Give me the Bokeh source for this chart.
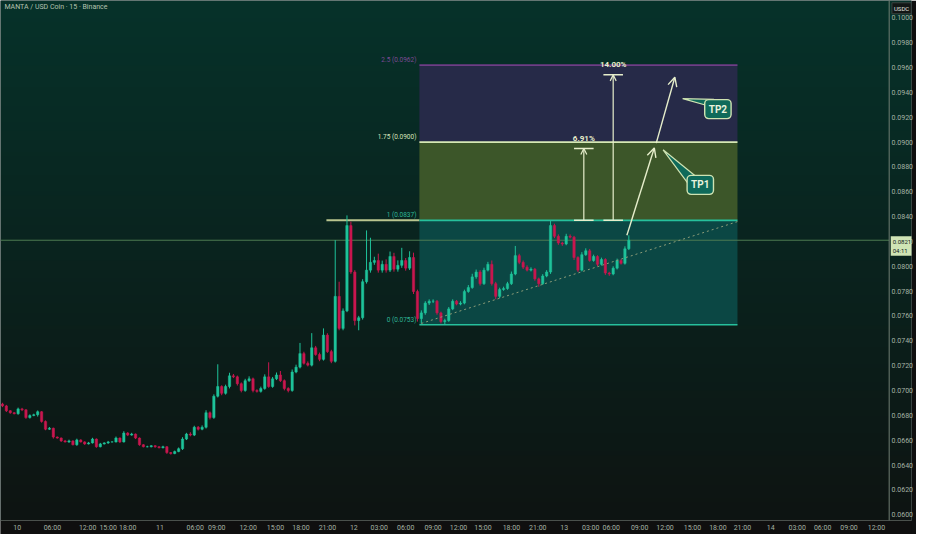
import numpy as np
from bokeh.plotting import figure
from bokeh.models import (Range1d, FixedTicker, Label, Arrow, OpenHead, Span,
                          ColumnDataSource, PrintfTickFormatter)
from bokeh.embed import file_html
from bokeh.resources import INLINE
from bokeh.core.properties import value

# ---------------- data ----------------
first_open = 0.06891
close = [
    0.06876, 0.06837, 0.06821, 0.06813, 0.06852, 0.06844, 0.06782, 0.06798, 0.06805, 0.06829,
    0.06751, 0.06688, 0.06696, 0.06625, 0.06617, 0.06594, 0.06586, 0.06594, 0.06563, 0.06602,
    0.06586, 0.06570, 0.06578, 0.06609, 0.06547, 0.06570, 0.06578, 0.06586, 0.06586, 0.06617,
    0.06586, 0.06657, 0.06641, 0.06649, 0.06617, 0.06563, 0.06547, 0.06547, 0.06555, 0.06547,
    0.06539, 0.06547, 0.06500, 0.06492, 0.06508, 0.06531, 0.06609, 0.06649, 0.06641, 0.06704,
    0.06688, 0.06704, 0.06821, 0.06782, 0.06954, 0.07032, 0.06977, 0.07032, 0.07118, 0.07110,
    0.07055, 0.07000, 0.07079, 0.07094, 0.07000, 0.06993, 0.07016, 0.07110, 0.07032, 0.07094,
    0.07125, 0.07079, 0.07016, 0.07000, 0.07149, 0.07188, 0.07297, 0.07219, 0.07204, 0.07344,
    0.07290, 0.07251, 0.07446, 0.07313, 0.07235, 0.07758, 0.07500, 0.07641, 0.08328, 0.07954,
    0.07563, 0.07586, 0.07876, 0.07969, 0.08032, 0.08047, 0.07969, 0.08016, 0.07969, 0.08079,
    0.07977, 0.08008, 0.08047, 0.07985, 0.08071, 0.07797, 0.07579, 0.07625, 0.07704, 0.07719,
    0.07719, 0.07625, 0.07555, 0.07563, 0.07657, 0.07719, 0.07696, 0.07704, 0.07797, 0.07829,
    0.07915, 0.07954, 0.07860, 0.07969, 0.08016, 0.07860, 0.07758, 0.07813, 0.07821, 0.07860,
    0.07938, 0.08086, 0.08032, 0.07993, 0.07969, 0.07977, 0.07899, 0.07860, 0.07922, 0.07954,
    0.08328, 0.08242, 0.08188, 0.08180, 0.08242, 0.08235, 0.08071, 0.07969, 0.08094, 0.08125,
    0.08047, 0.08079, 0.08016, 0.08055, 0.07946, 0.07938, 0.07985, 0.08047, 0.08024, 0.08141,
    0.08210]
# upper / lower wick lengths beyond the body, in units of 0.00001
wick_up_e5 = [
    10, 8, 5, 5, 10, 8, 5, 10, 8, 10, 5, 8, 10, 5, 5, 5, 8, 10, 5, 10,
    5, 5, 8, 10, 5, 8, 5, 8, 5, 12, 5, 15, 8, 10, 5, 5, 5, 8, 5, 5,
    5, 8, 5, 5, 8, 10, 15, 10, 15, 12, 10, 15, 20, 10, 15, 179, 10, 15, 25, 15,
    10, 10, 15, 20, 10, 10, 15, 20, 117, 15, 20, 32, 10, 10, 20, 20, 86, 15, 15, 118,
    15, 15, 54, 15, 15, 453, 118, 20, 82, 32, 15, 15, 20, 320, 198, 30, 55, 30, 40, 40,
    30, 40, 102, 20, 50, 39, 15, 20, 15, 15, 15, 10, 10, 15, 15, 15, 10, 15, 15, 20,
    25, 20, 15, 20, 20, 31, 15, 15, 15, 15, 20, 78, 15, 15, 15, 15, 10, 10, 15, 15,
    39, 15, 15, 10, 20, 15, 10, 10, 20, 20, 15, 15, 10, 15, 10, 10, 15, 15, 10, 20,
    40]
wick_dn_e5 = [
    10, 10, 8, 5, 8, 10, 10, 8, 5, 15, 10, 8, 5, 12, 5, 8, 5, 8, 5, 8,
    5, 8, 5, 5, 8, 5, 5, 8, 5, 5, 8, 5, 8, 5, 8, 8, 5, 5, 5, 8,
    5, 5, 10, 8, 5, 5, 10, 8, 10, 8, 10, 8, 10, 15, 10, 10, 15, 10, 15, 10,
    15, 15, 10, 10, 15, 10, 10, 10, 10, 10, 10, 10, 15, 15, 10, 10, 10, 10, 10, 10,
    10, 15, 10, 10, 15, 10, 15, 15, 10, 15, 39, 78, 15, 15, 20, 20, 20, 20, 20, 15,
    20, 20, 20, 20, 15, 20, 24, 39, 15, 15, 15, 15, 15, 25, 10, 10, 10, 10, 10, 10,
    10, 15, 15, 10, 10, 15, 23, 15, 10, 10, 10, 10, 15, 15, 10, 10, 15, 25, 10, 10,
    15, 15, 15, 15, 10, 10, 20, 15, 10, 10, 10, 10, 15, 10, 15, 15, 10, 10, 10, 10,
    10]

time_tick_pos = [3.75, 12.75, 21.75, 27.0, 32.0, 40.25, 49.25, 54.75, 62.75, 69.75, 76.25,
                 83.0, 89.75, 96.25, 103.0, 110.0, 116.5, 122.75, 130.0, 136.75, 143.5,
                 150.25, 155.5, 162.75, 169.25, 176.25, 182.75, 189.0, 196.25, 203.0,
                 209.5, 216.25, 223.25]
time_tick_labels = ["10", "06:00", "12:00", "15:00", "18:00", "11", "06:00", "09:00",
                    "12:00", "15:00", "18:00", "21:00", "12", "03:00", "06:00", "09:00",
                    "12:00", "15:00", "18:00", "21:00", "13", "03:00", "06:00", "09:00",
                    "12:00", "15:00", "18:00", "21:00", "14", "03:00", "06:00", "09:00",
                    "12:00"]
price_ticks = [0.0600, 0.0620, 0.0640, 0.0660, 0.0680, 0.0700, 0.0720, 0.0740, 0.0760,
               0.0780, 0.0800, 0.0820, 0.0840, 0.0860, 0.0880, 0.0900, 0.0920, 0.0940,
               0.0960, 0.0980, 0.1000]

fib_prices = [0.0753, 0.0837, 0.0900, 0.0962]
fib_labels = ["0 (0.0753)", "1 (0.0837)", "1.75 (0.0900)", "2.5 (0.0962)"]
fib_start, fib_end = 106.5, 187.75
resistance_start = 82.75            # horizontal line at the 1 level starts here

trend_x = [107.0, 187.75]
trend_y = [0.0754, 0.0836]

last_price = 0.0821
countdown = "04:11"

meas_x = [148.5, 156.0]
meas_base = 0.0837
meas_pct = [6.91, 14.00]

path1_x, path1_y = [159.5, 166.5], [0.0825, 0.08953]
path2_x, path2_y = [167.0, 171.75], [0.08992, 0.09523]

tp_names = ["TP1", "TP2"]
tp_box_x = [178.25, 182.75]
tp_box_y = [0.08656, 0.09266]
tp_tip_x = [168.75, 173.75]
tp_tip_y = [0.08938, 0.0935]
tp_base_x = [[175.0, 177.0], [179.75, 181.75]]
tp_base_y = [[0.08672, 0.08727], [0.09297, 0.09344]]

# ---------------- figure ----------------
W, H = 916, 534
Y0, Y1 = 0.059531, 0.101406
X0, X1 = -0.5, 232.2          # full width; price scale panel starts at SEP
SEP = 226.5
p = figure(width=W, height=H, output_backend="svg", toolbar_location=None,
           x_range=Range1d(X0, X1), y_range=Range1d(Y0, Y1), y_axis_location="right",
           min_border=0)
p.background_fill_color = "#0b1e1a"
p.border_fill_color = "#0f0f0f"
p.outline_line_color = None
p.grid.visible = False

# background gradient
def hex2rgb(h):
    return np.array([int(h[i:i + 2], 16) for i in (1, 3, 5)], dtype=float)
bot, top = hex2rgb("#0e1412"), hex2rgb("#06322a")
pal = ["#%02x%02x%02x" % tuple((bot + (top - bot) * t).astype(int)) for t in np.linspace(0, 1, 256)]
grad = np.linspace(0, 1, 256).reshape(-1, 1) * np.ones((1, 2))
p.image(image=[grad], x=X0, y=Y0, dw=X1 - X0, dh=Y1 - Y0, palette=pal, level="image")

# fib zones
zone_cols = ["#0b4744", "#3c5629", "#262a48"]
for k in range(3):
    p.quad(left=fib_start, right=fib_end, bottom=fib_prices[k], top=fib_prices[k + 1],
           fill_color=zone_cols[k], line_color=None)

# resistance line (beige) left of the box
p.segment(x0=resistance_start, y0=fib_prices[1], x1=fib_start, y1=fib_prices[1],
          line_color="#b9c58f", line_width=2)

# current price line
p.segment(x0=X0, y0=last_price, x1=SEP, y1=last_price, line_color="#4c7a52", line_width=1)

# candles
n = len(close)
xs = np.arange(n)
opens = [first_open] + close[:-1]
hi = [max(o, c) + u * 1e-5 for o, c, u in zip(opens, close, wick_up_e5)]
lo = [min(o, c) - d * 1e-5 for o, c, d in zip(opens, close, wick_dn_e5)]
cols = ["#1ec39a" if c >= o else "#c8174f" for o, c in zip(opens, close)]
src = ColumnDataSource(dict(x=xs, o=opens, c=close, h=hi, l=lo, col=cols,
                            top=[max(o, c) for o, c in zip(opens, close)],
                            bot=[min(o, c) for o, c in zip(opens, close)]))
p.segment(x0="x", y0="h", x1="x", y1="l", color="col", line_width=1, source=src)
p.vbar(x="x", width=0.6, top="top", bottom="bot", fill_color="col", line_color="col",
       line_width=0.5, source=src)

# fib level lines
level_cols = ["#26c09c", "#26c09c", "#d6e8b4", "#6e3d86"]
for k in range(4):
    p.segment(x0=fib_start, y0=fib_prices[k], x1=fib_end, y1=fib_prices[k],
              line_color=level_cols[k], line_width=1.6)
label_cols = ["#2fb596", "#2fb596", "#d6e4bb", "#7d4a94"]
p.text(x=[fib_start] * 4, y=fib_prices, text=fib_labels, text_align="right",
       text_baseline="bottom", x_offset=-3, y_offset=-1, text_font_size="6.5px",
       text_color=label_cols, text_font=value("Roboto"))

# dotted trend line
p.line(trend_x, trend_y, line_color="#8c9c78", line_width=1, line_dash="2 3")

# measurements
meas_top = [meas_base * (1 + q / 100) for q in meas_pct]
beige = "#e6eecb"
for mx, mt in zip(meas_x, meas_top):
    p.add_layout(Arrow(end=OpenHead(size=6, line_color=beige, line_width=1.2),
                       x_start=mx, y_start=meas_base, x_end=mx, y_end=mt,
                       line_color=beige, line_width=1.2))
    p.segment(x0=mx - 2.5, y0=mt, x1=mx + 2.5, y1=mt, line_color=beige, line_width=1.5)
    p.segment(x0=mx - 2.5, y0=meas_base, x1=mx + 2.5, y1=meas_base, line_color=beige,
              line_width=1.5)
p.text(x=meas_x, y=meas_top, text=["%.2f%%" % q for q in meas_pct], text_align="center",
       text_baseline="bottom", y_offset=-6, text_font_size="8px", text_font_style="bold",
       text_color=beige, text_font=value("Roboto"))

# projected path arrows
for ax, ay in ((path1_x, path1_y), (path2_x, path2_y)):
    p.add_layout(Arrow(end=OpenHead(size=9, line_color=beige, line_width=1.4),
                       x_start=ax[0], y_start=ay[0], x_end=ax[1], y_end=ay[1],
                       line_color=beige, line_width=1.4))

# TP callouts
for k in range(2):
    p.patch([tp_tip_x[k], tp_base_x[k][0], tp_base_x[k][1]],
            [tp_tip_y[k], tp_base_y[k][0], tp_base_y[k][1]],
            fill_color="#0f6a5a", line_color="#cfe3b2", line_width=1.2)
    p.add_layout(Label(x=tp_box_x[k], y=tp_box_y[k], text=tp_names[k], text_align="center",
                       text_baseline="middle", text_font_size="10px", text_font_style="bold",
                       text_color="#e9f2dc", text_font="Roboto",
                       background_fill_color="#0f6a5a", border_line_color="#cfe3b2",
                       border_line_width=1.4, padding=4, border_radius=4))

# title
p.add_layout(Label(x=0.5, y=0.10085, text="MANTA / USD Coin · 15 · Binance",
                   text_baseline="middle", text_font_size="7px", text_color="#b5c2b0",
                   text_font="Roboto"))

# price scale separator + panel labels
p.add_layout(Span(location=SEP, dimension="height", line_color="#6f7d72", line_width=1))
p.add_layout(Label(x=SEP + 0.7, y=0.10078, text="USDC", text_baseline="middle",
                   text_font_size="6px", text_color="#e0e6e0", text_font="Roboto",
                   background_fill_color="#121615", border_line_color="#3a4440", padding=2))
p.add_layout(Label(x=SEP + 0.4, y=last_price, text="%.4f\n%s" % (last_price, countdown),
                   text_baseline="top", y_offset=4, text_font_size="6px",
                   text_color="#10201a", text_font="Roboto",
                   background_fill_color="#cfe4b5", padding=2))

# axes
ax_col = "#a5b2a4"
p.yaxis.ticker = FixedTicker(ticks=price_ticks)
p.yaxis.formatter = PrintfTickFormatter(format="%.4f")
p.xaxis.ticker = FixedTicker(ticks=time_tick_pos)
p.xaxis.major_label_overrides = {t: l for t, l in zip(time_tick_pos, time_tick_labels)}
for a in (p.xaxis[0], p.yaxis[0]):
    a.major_label_text_font_size = "7px"
    a.major_label_text_color = ax_col
    a.major_label_text_font = "Roboto"
    a.major_tick_line_color = None
    a.minor_tick_line_color = None
    a.major_tick_out = 0
    a.major_tick_in = 0
    a.minor_tick_out = 0
    a.minor_tick_in = 0
    a.major_label_standoff = 3
p.xaxis[0].axis_line_color = "#4a504c"
p.xaxis[0].background_fill_color = "#0f0f0f"
p.yaxis[0].axis_line_color = None
p.yaxis[0].major_label_standoff = -20   # draw price labels inside the price-scale panel

open("out.html", "w").write(file_html(p, INLINE))
